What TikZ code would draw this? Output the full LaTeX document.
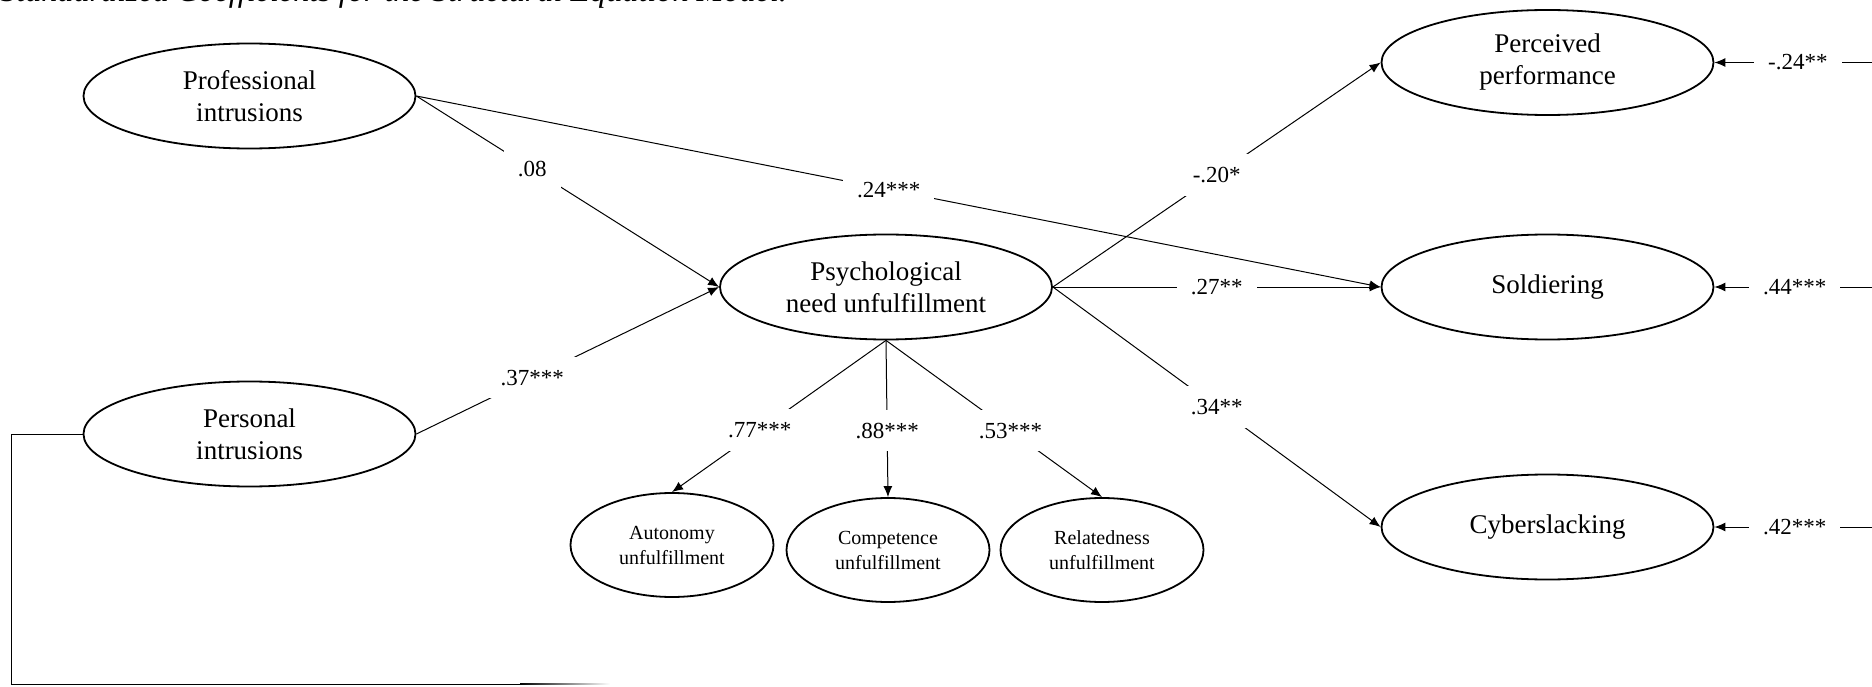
\documentclass[tikz,border=0pt]{standalone}
\usepackage{fontspec}
\setmainfont{Liberation Serif}
\usetikzlibrary{shapes.geometric,arrows.meta}
\begin{document}
\begin{tikzpicture}[x=1pt,y=-1pt,
  bigvar/.style={ellipse,draw,line width=1.8pt,minimum width=332pt,minimum height=105pt,inner sep=0pt,align=center,font=\fontsize{27}{32}\selectfont},
  smallvar/.style={ellipse,draw,line width=1.8pt,minimum width=203pt,minimum height=104pt,inner sep=0pt,align=center,font=\fontsize{20}{25}\selectfont},
  conn/.style={line width=1pt,-{Latex[length=11pt,width=9pt]}},
  plainline/.style={line width=1pt},
  lab/.style={fill=white,inner xsep=14pt,inner ysep=13pt,font=\fontsize{23}{27}\selectfont},
  caption/.style={anchor=base west,inner sep=0pt,font=\fontsize{32.2}{36}\selectfont\itshape}
]
\useasboundingbox (0,0) rectangle (1872,687);
\begin{scope}
\clip (0,0) rectangle (1872,687);
\node[caption] (cap) at (0,2) {Standardized Coefficients for the Structural Equation Model.};
\end{scope}

% nodes
\node[bigvar] (prof) at (249.5,96) {Professional\\intrusions};
\node[bigvar] (pers) at (249.5,434) {Personal\\intrusions};
\node[bigvar] (psych) at (886,287) {Psychological\\need unfulfillment};
\node[smallvar] (auto) at (672,545) {Autonomy\\unfulfillment};
\node[smallvar] (comp) at (888,550) {Competence\\unfulfillment};
\node[smallvar] (rel) at (1102,550) {Relatedness\\unfulfillment};
\node[bigvar] (perc) at (1547.5,62.5) {Perceived\\performance};
\node[bigvar] (sold) at (1547.5,287) {Soldiering};
\node[bigvar] (cyber) at (1547.5,527) {Cyberslacking};

% free ends
\coordinate (ePerc) at (1872,62.5);
\coordinate (eSold) at (1872,287);
\coordinate (eCyber) at (1872,527);
\coordinate (bl) at (11,684);
\coordinate (br) at (520,684);

% paths
\draw[conn] (prof.east) -- node[lab,pos=0.383] {.08} (psych.west);
\draw[conn] (prof.east) -- node[lab,pos=0.49] {.24***} (sold.west);
\draw[conn] (pers.east) -- node[lab,pos=0.383] {.37***} (psych.west);
\draw[conn] (psych.east) -- node[lab,pos=0.5] {-.20*} (perc.west);
\draw[conn] (psych.east) -- node[lab,pos=0.5] {.27**} (sold.west);
\draw[conn] (psych.east) -- node[lab,pos=0.5] {.34**} (cyber.west);
\draw[conn] (psych.south) -- node[lab,pos=0.59] {.77***} (auto.north);
\draw[conn] (psych.south) -- node[lab,pos=0.576] {.88***} (comp.north);
\draw[conn] (psych.south) -- node[lab,pos=0.576] {.53***} (rel.north);
\draw[conn] (ePerc) -- node[lab,pos=0.47] {-.24**} (perc.east);
\draw[conn] (eSold) -- node[lab,pos=0.49] {.44***} (sold.east);
\draw[conn] (eCyber) -- node[lab,pos=0.49] {.42***} (cyber.east);
\draw[plainline] (pers.west) -| (bl) -- (br);
\shade[left color=black,right color=white] (520,683.5) rectangle (610,684.5);
\end{tikzpicture}
\end{document}
